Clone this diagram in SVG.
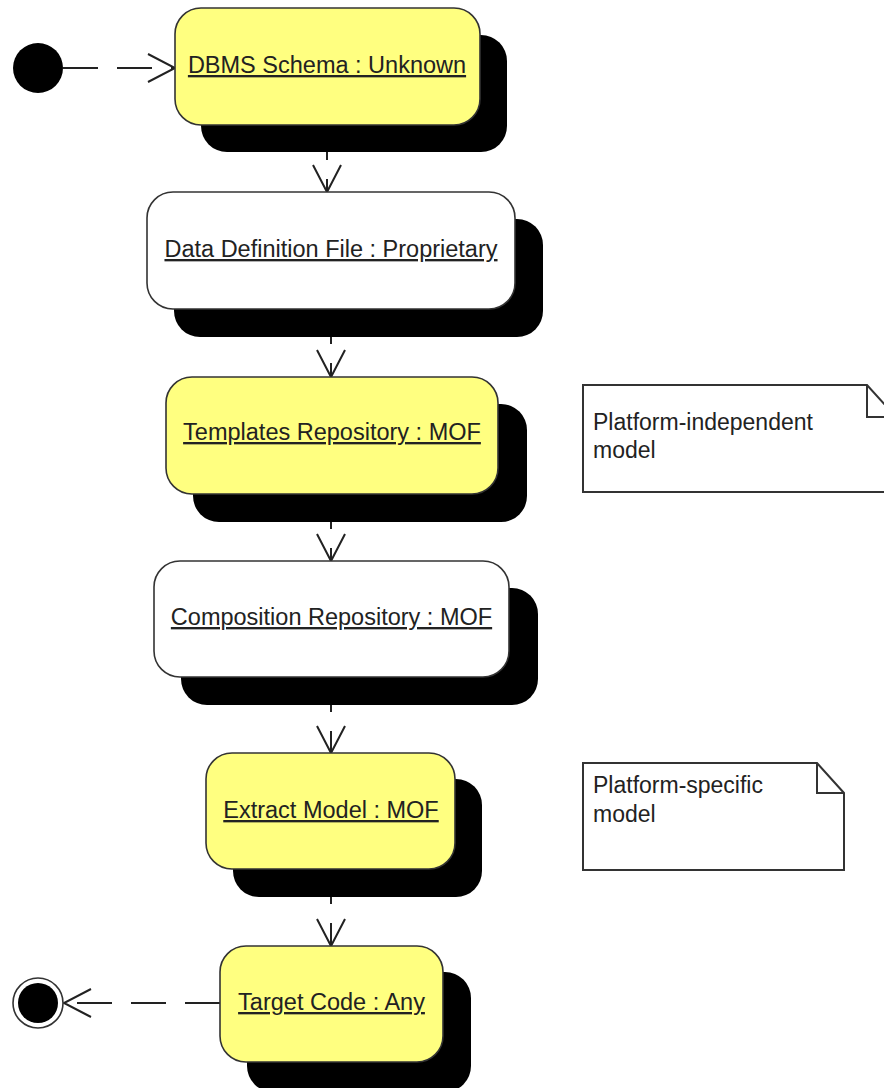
<svg xmlns="http://www.w3.org/2000/svg" width="884" height="1088" viewBox="0 0 884 1088">
<style>
.shadow{fill:#000}
.box{stroke:#333;stroke-width:1.6}
.yellow{fill:#ffff80}
.white{fill:#fff}
.lbl{font-family:"Liberation Sans",Arial,sans-serif;font-size:23.5px;fill:#222;text-anchor:middle;text-decoration:underline}
.note{fill:#fff;stroke:#333;stroke-width:2}
.ntxt{font-family:"Liberation Sans",Arial,sans-serif;font-size:23px;fill:#222}
.flow{fill:none;stroke:#222;stroke-width:2;stroke-dasharray:35 19}
</style>
<defs>
<marker id="arr" markerUnits="userSpaceOnUse" markerWidth="32" markerHeight="32" refX="29" refY="16" orient="auto">
<path d="M2,2 L29,16 L2,30" fill="none" stroke="#222" stroke-width="2"/>
</marker>
</defs>
<rect width="884" height="1088" fill="#fff"/>
<g id="connectors">
<line class="flow" x1="63" y1="68" x2="175" y2="68" marker-end="url(#arr)"/>
<line class="flow" x1="327" y1="125" x2="327" y2="192" marker-end="url(#arr)"/>
<line class="flow" x1="331" y1="309" x2="331" y2="377" marker-end="url(#arr)"/>
<line class="flow" x1="331" y1="494" x2="331" y2="561" marker-end="url(#arr)"/>
<line class="flow" x1="331" y1="677" x2="331" y2="753" marker-end="url(#arr)"/>
<line class="flow" x1="331" y1="869" x2="331" y2="946" marker-end="url(#arr)"/>
<line class="flow" x1="220" y1="1003" x2="64" y2="1003" marker-end="url(#arr)"/>
</g>
<g id="initial">
<circle cx="38" cy="68" r="25" fill="#000"/>
</g>
<g id="final">
<circle cx="38" cy="1003" r="25" fill="#fff" stroke="#333" stroke-width="1.6"/>
<circle cx="38" cy="1003" r="20" fill="#000"/>
</g>
<g id="n1">
<rect class="shadow" x="201" y="35" width="306" height="117" rx="26"/>
<rect class="box yellow" x="175" y="8" width="305" height="117" rx="26"/>
<text class="lbl" x="327" y="73">DBMS Schema : Unknown</text>
</g>
<g id="n2">
<rect class="shadow" x="174" y="219" width="369" height="118" rx="26"/>
<rect class="box white" x="147" y="192" width="368" height="117" rx="26"/>
<text class="lbl" x="331" y="257">Data Definition File : Proprietary</text>
</g>
<g id="n3">
<rect class="shadow" x="193" y="404" width="334" height="118" rx="26"/>
<rect class="box yellow" x="166" y="377" width="332" height="117" rx="26"/>
<text class="lbl" x="332" y="440">Templates Repository : MOF</text>
</g>
<g id="n4">
<rect class="shadow" x="181" y="588" width="357" height="117" rx="26"/>
<rect class="box white" x="154" y="561" width="355" height="116" rx="26"/>
<text class="lbl" x="331.5" y="625">Composition Repository : MOF</text>
</g>
<g id="n5">
<rect class="shadow" x="233" y="779" width="249" height="118" rx="26"/>
<rect class="box yellow" x="206" y="753" width="249" height="116" rx="26"/>
<text class="lbl" x="331" y="818">Extract Model : MOF</text>
</g>
<g id="n6">
<rect class="shadow" x="247" y="972" width="224" height="120" rx="26"/>
<rect class="box yellow" x="220" y="946" width="223" height="116" rx="26"/>
<text class="lbl" x="331.5" y="1010">Target Code : Any</text>
</g>
<g id="note1">
<path class="note" d="M583,385 L867,385 L896,417 L896,492 L583,492 Z"/>
<path d="M867,385 L867,417 L896,417" fill="none" stroke="#333" stroke-width="2"/>
<text class="ntxt" x="593" y="430">Platform-independent</text>
<text class="ntxt" x="593" y="458">model</text>
</g>
<g id="note2">
<path class="note" d="M583,763 L817,763 L844,793 L844,870 L583,870 Z"/>
<path d="M817,763 L817,793 L844,793" fill="none" stroke="#333" stroke-width="2"/>
<text class="ntxt" x="593" y="793">Platform-specific</text>
<text class="ntxt" x="593" y="822">model</text>
</g>
</svg>
